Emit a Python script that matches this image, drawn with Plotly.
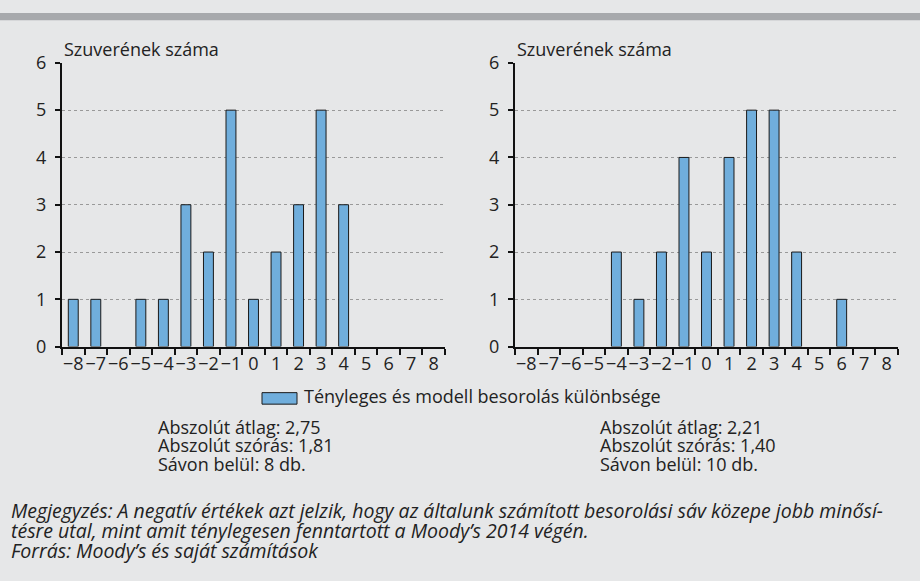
import plotly.graph_objects as go
from plotly.subplots import make_subplots

categories = ["−8", "−7", "−6", "−5", "−4", "−3", "−2", "−1", "0", "1", "2", "3", "4", "5", "6", "7", "8"]
left_counts = [1, 1, 0, 1, 1, 3, 2, 5, 1, 2, 3, 5, 3, 0, 0, 0, 0]
right_counts = [0, 0, 0, 0, 2, 1, 2, 4, 2, 4, 5, 5, 2, 0, 1, 0, 0]
series_name = "Tényleges és modell besorolás különbsége"
y_title = "Szuverének száma"
left_stats = ["Abszolút átlag: 2,75", "Abszolút szórás: 1,81", "Sávon belül: 8 db."]
right_stats = ["Abszolút átlag: 2,21", "Abszolút szórás: 1,40", "Sávon belül: 10 db."]
notes = [
    "Megjegyzés: A negatív értékek azt jelzik, hogy az általunk számított besorolási sáv közepe jobb minősí-",
    "tésre utal, mint amit ténylegesen fenntartott a Moody’s 2014 végén.",
    "Forrás: Moody’s és saját számítások",
]

W, H = 920, 581
BG = "#e6e7e8"
BAR = "#70aedc"
FONT = "Open Sans"
TXT = "#222222"
FS = 18

def px(x):
    return x / W

def py(y):
    return 1 - y / H

fig = make_subplots(rows=1, cols=2)
for i, vals in enumerate([left_counts, right_counts], start=1):
    fig.add_trace(go.Bar(x=categories, y=vals, name=series_name, showlegend=False,
                         hoverinfo="x+y",
                         marker=dict(color=BAR,
                                     line=dict(color="#1a1a1a",
                                               width=[1 if v > 0 else 0 for v in vals]))),
                  row=1, col=i)

xdoms = [(62, 445), (515, 898)]
ydom = [py(348), py(52)]
for i, (a, b) in enumerate(xdoms, start=1):
    sx = "" if i == 1 else str(i)
    fig.layout["xaxis" + sx].update(
        domain=[px(a), px(b)], type="category", categoryorder="array", categoryarray=categories,
        range=[-0.5, 16.5], showline=True, linecolor="#111", linewidth=2,
        ticks="outside", ticklen=6, tickwidth=2, tickcolor="#111", tickson="boundaries",
        tickangle=0, showgrid=False, zeroline=False,
        tickfont=dict(family=FONT, size=FS, color=TXT), fixedrange=True)
    fig.layout["yaxis" + sx].update(
        domain=ydom, range=[0, 6], dtick=1, showline=True, linecolor="#111", linewidth=2,
        ticks="outside", ticklen=5, tickwidth=2, tickcolor="#111",
        showgrid=True, gridcolor="#999999", griddash="dot", gridwidth=1, zeroline=False,
        tickfont=dict(family=FONT, size=FS, color=TXT), ticklabelstandoff=5, fixedrange=True)

annotations = []
for a, _ in xdoms:
    annotations.append(dict(text=y_title, x=px(a), y=py(38), xref="paper", yref="paper",
                            xanchor="left", yanchor="middle", showarrow=False,
                            font=dict(family=FONT, size=FS, color=TXT)))

shapes = [
    dict(type="rect", xref="paper", yref="paper", x0=0, x1=1, y0=py(7.5), y1=1,
         fillcolor="#a7a9ac", line=dict(width=0), layer="below"),
    dict(type="rect", xref="paper", yref="paper", x0=px(262), x1=px(297), y0=py(408), y1=py(396),
         fillcolor=BAR, line=dict(color="#1a1a1a", width=1)),
]
annotations.append(dict(text=series_name, x=px(302), y=py(400), xref="paper", yref="paper",
                        xanchor="left", yanchor="middle", showarrow=False,
                        font=dict(family=FONT, size=FS, color=TXT)))

for x0, stats in [(156, left_stats), (598, right_stats)]:
    for k, s in enumerate(stats):
        annotations.append(dict(text=s, x=px(x0), y=py(432 + 19 * k), xref="paper", yref="paper",
                                xanchor="left", yanchor="middle", showarrow=False,
                                font=dict(family=FONT, size=FS, color=TXT)))

for k, s in enumerate(notes):
    annotations.append(dict(text="<i>" + s + "</i>", x=px(9), y=py(518.5 + 21 * k), xref="paper", yref="paper",
                            xanchor="left", yanchor="middle", showarrow=False,
                            font=dict(family=FONT, size=19.5, color=TXT)))

fig.update_layout(width=W, height=H, margin=dict(l=0, r=0, t=0, b=0),
                  paper_bgcolor=BG, plot_bgcolor=BG, bargap=0.56,
                  annotations=annotations, shapes=shapes, showlegend=False)

post = (
    "document.documentElement.style.margin='0';document.documentElement.style.padding='0';"
    "document.documentElement.style.overflow='hidden';"
    "document.body.style.margin='0';document.body.style.padding='0';document.body.style.overflow='hidden';"
    "var d=document.getElementById('{plot_id}');d.style.position='fixed';d.style.top='0px';d.style.left='0px';"
)
fig.write_html("out.html", config={"displayModeBar": False}, post_script=post)
